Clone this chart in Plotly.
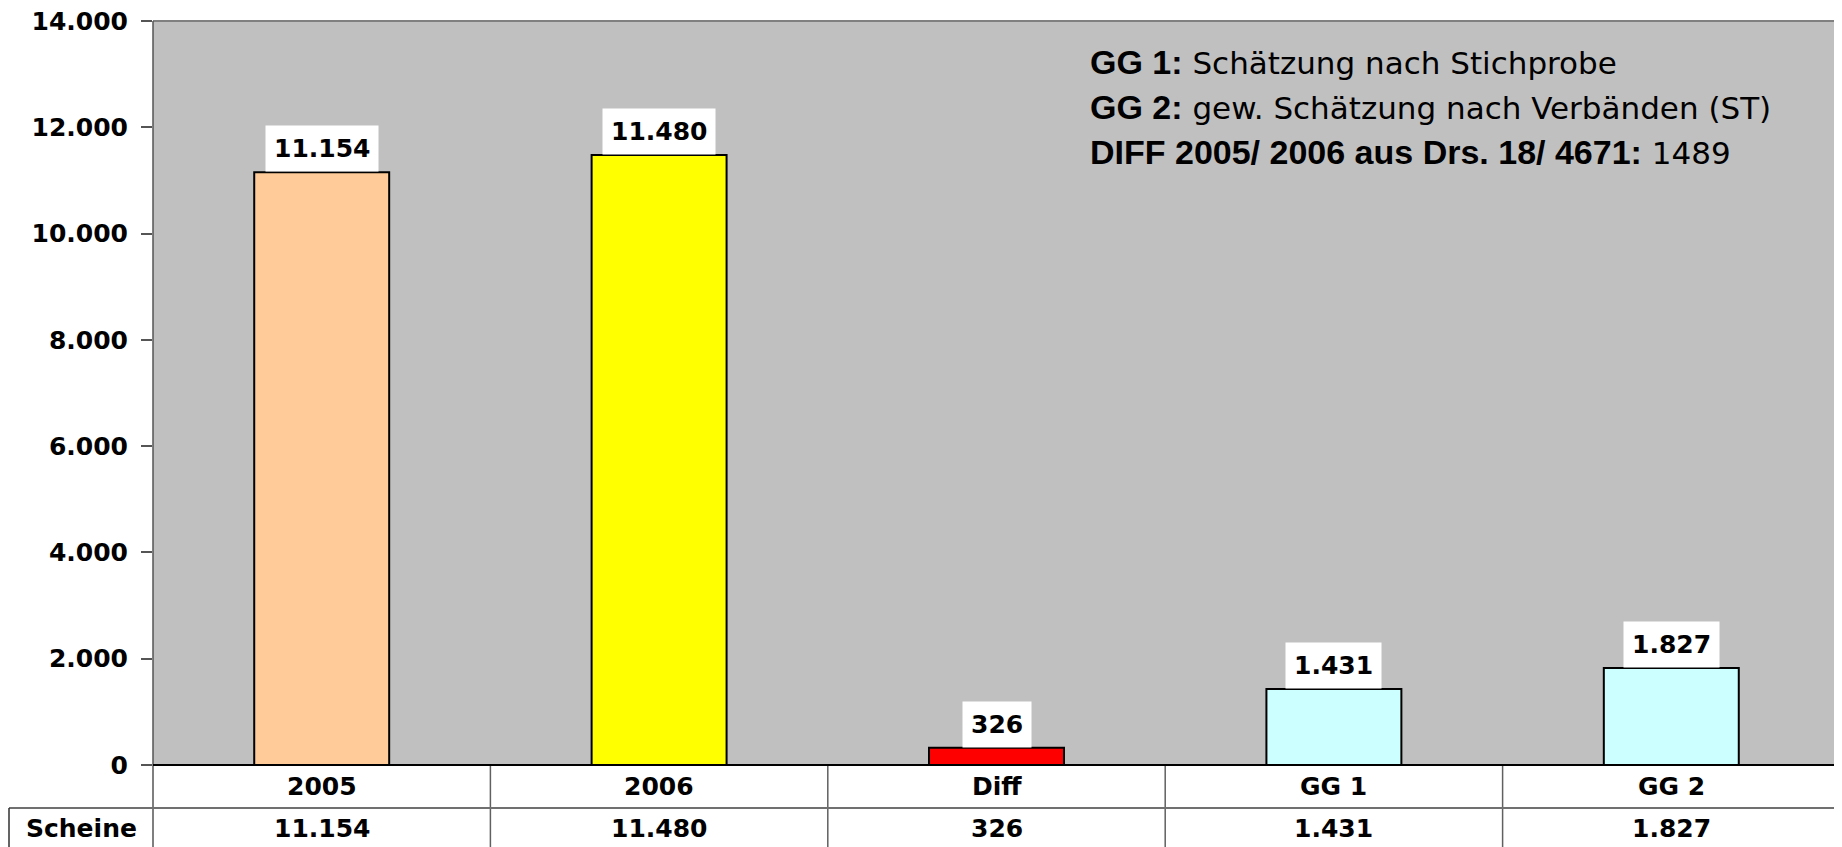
import plotly.graph_objects as go

categories = ["2005", "2006", "Diff", "GG 1", "GG 2"]
scheine = [11154, 11480, 326, 1431, 1827]
series_name = "Scheine"
bar_colors = ["#FFCC99", "#FFFF00", "#FF0000", "#CCFFFF", "#CCFFFF"]
y_ticks = [0, 2000, 4000, 6000, 8000, 10000, 12000, 14000]
note_lines = [
    ("GG 1:", " Schätzung nach Stichprobe"),
    ("GG 2:", " gew. Schätzung nach Verbänden (ST)"),
    ("DIFF 2005/ 2006 aus Drs. 18/ 4671:", " 1489"),
]

# page body has an 8px default margin: lay the figure out in screen pixels
OFF = 8
W, H = 1842, 847
FW, FH = W - OFF, H - OFF
TOP = 21
PLOT_L, PLOT_R, PLOT_B = 153, 1840, 765
paper_h = FH - (TOP - OFF)


def px2paper(px):
    return (px - OFF) / FW


def py2paper(py):
    return (H - py) / paper_h


def fmt(v):
    return f"{v:,}".replace(",", ".")


xd0, xd1 = px2paper(PLOT_L), px2paper(PLOT_R)
yd0 = py2paper(PLOT_B)

BOLD = dict(family="DejaVu Sans", size=25, color="black", weight="bold")

fig = go.Figure()
fig.add_trace(go.Bar(
    x=categories, y=scheine, name=series_name, width=0.4,
    marker=dict(color=bar_colors, line=dict(color="black", width=2)),
    hoverinfo="skip", showlegend=False,
))

annotations = []
for i, v in enumerate(scheine):
    annotations.append(dict(
        x=i, y=v, xref="x", yref="y", text="<b>" + fmt(v) + "</b>",
        showarrow=False, yanchor="bottom", xanchor="center",
        bgcolor="white", borderpad=8, font=BOLD,
    ))
row1_y = py2paper(786)
row2_y = py2paper(828)
for i, (c, v) in enumerate(zip(categories, scheine)):
    annotations.append(dict(
        x=i, y=row1_y, xref="x", yref="paper", text="<b>" + c + "</b>",
        showarrow=False, yanchor="middle", xanchor="center", font=BOLD,
    ))
    annotations.append(dict(
        x=i, y=row2_y, xref="x", yref="paper", text="<b>" + fmt(v) + "</b>",
        showarrow=False, yanchor="middle", xanchor="center", font=BOLD,
    ))
annotations.append(dict(
    x=px2paper(81), y=row2_y, xref="paper", yref="paper",
    text="<b>" + series_name + "</b>", showarrow=False,
    yanchor="middle", xanchor="center", font=BOLD,
))
for i, (b, r) in enumerate(note_lines):
    annotations.append(dict(
        x=px2paper(1088), y=py2paper(62 + 45 * i), xref="paper", yref="paper",
        text='<span style="font-family:Liberation Sans;font-weight:bold;font-size:34px">'
             + b + "</span>" + r,
        showarrow=False, xanchor="left", yanchor="middle",
        font=dict(family="DejaVu Sans", size=31, color="black"),
    ))

CELL_L = 9
shapes = []
shapes.append(dict(type="line", xref="paper", yref="paper", x0=xd0, x1=xd1, y0=1, y1=1,
                   line=dict(color="#808080", width=2)))
shapes.append(dict(type="line", xref="paper", yref="paper", x0=xd1, x1=xd1, y0=yd0, y1=1,
                   line=dict(color="#808080", width=2)))
shapes.append(dict(type="line", xref="paper", yref="paper", x0=xd0, x1=xd0, y0=0, y1=1,
                   line=dict(color="#555555", width=1.5)))
for i in range(len(categories) - 1):
    shapes.append(dict(type="line", xref="x", yref="paper", x0=i + 0.5, x1=i + 0.5,
                       y0=0, y1=yd0, line=dict(color="#606060", width=1.5)))
shapes.append(dict(type="line", xref="paper", yref="paper", x0=px2paper(CELL_L), x1=px2paper(1841),
                   y0=py2paper(808), y1=py2paper(808), line=dict(color="#707070", width=2)))
shapes.append(dict(type="line", xref="paper", yref="paper", x0=px2paper(CELL_L), x1=px2paper(CELL_L),
                   y0=0, y1=py2paper(808), line=dict(color="#303030", width=1.5)))
shapes.append(dict(type="line", xref="paper", yref="paper", x0=px2paper(1841), x1=px2paper(1841),
                   y0=0, y1=yd0, line=dict(color="black", width=2)))
shapes.append(dict(type="line", xref="paper", yref="paper", x0=xd0, x1=px2paper(1841), y0=yd0, y1=yd0,
                   line=dict(color="black", width=2)))

fig.update_layout(
    width=FW, height=FH,
    margin=dict(l=0, r=0, t=TOP - OFF, b=0, pad=0),
    paper_bgcolor="white", plot_bgcolor="#C0C0C0",
    separators=",.",
    annotations=annotations, shapes=shapes,
    showlegend=False,
    xaxis=dict(type="category", categoryorder="array", categoryarray=categories,
               domain=[xd0, xd1],
               range=[-0.5, len(categories) - 0.5], showticklabels=False,
               showgrid=False, zeroline=False, showline=False, ticks=""),
    yaxis=dict(range=[0, 14000], domain=[yd0, 1], tickvals=y_ticks, tickformat=",d",
               showgrid=False, zeroline=False, showline=False,
               ticks="outside", ticklen=11, tickwidth=1.5, tickcolor="#555555",
               ticklabelstandoff=8, ticklabeloverflow="allow", automargin=False,
               tickfont=dict(family="DejaVu Sans", size=25, color="black", weight="bold")),
)

fig.write_html("out.html")
